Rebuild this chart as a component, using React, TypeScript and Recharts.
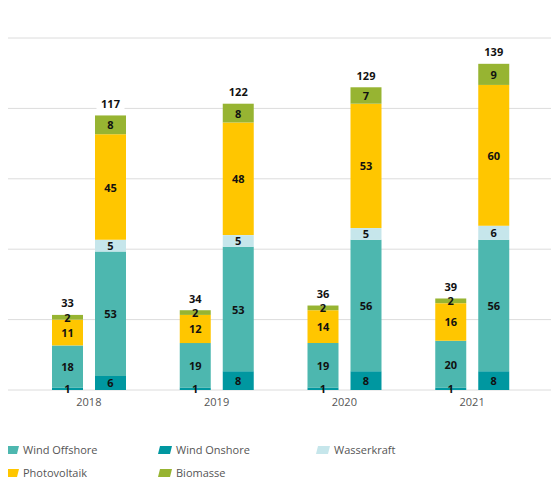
import React from 'react';
import { BarChart, Bar, XAxis, YAxis, CartesianGrid, LabelList, Legend } from 'recharts';

const years = ['2018', '2019', '2020', '2021'];

// Smaller stack (left bar of each year)
const onshoreA = [1, 1, 1, 1];
const offshoreA = [18, 19, 19, 20];
const wasserA = [0, 0, 0, 0];
const pvA = [11, 12, 14, 16];
const bioA = [2, 2, 2, 2];
const totalA = [33, 34, 36, 39];

// Larger stack (right bar of each year)
const onshoreB = [6, 8, 8, 8];
const offshoreB = [53, 53, 56, 56];
const wasserB = [5, 5, 5, 6];
const pvB = [45, 48, 53, 60];
const bioB = [8, 8, 7, 9];
const totalB = [117, 122, 129, 139];

const yTicks = [0, 30, 60, 90, 120, 150];

const seriesNames = ['Wind Offshore', 'Wind Onshore', 'Wasserkraft', 'Photovoltaik', 'Biomasse'];
const COLORS: Record<string, string> = {
  'Wind Offshore': '#4db7af',
  'Wind Onshore': '#0097a0',
  'Wasserkraft': '#c6e6eb',
  'Photovoltaik': '#ffc600',
  'Biomasse': '#97b432',
};

const data = years.map((y, i) => ({
  year: y,
  onshoreA: onshoreA[i],
  offshoreA: offshoreA[i],
  wasserA: wasserA[i],
  pvA: pvA[i],
  bioA: bioA[i],
  totalA: totalA[i],
  onshoreB: onshoreB[i],
  offshoreB: offshoreB[i],
  wasserB: wasserB[i],
  pvB: pvB[i],
  bioB: bioB[i],
  totalB: totalB[i],
}));

const FONT = "'Open Sans', sans-serif";

const SegLabel = (props: any) => {
  const { x, y, width, height, value } = props;
  if (!value) return null;
  return (
    <text
      x={x + width / 2}
      y={y + height / 2}
      textAnchor="middle"
      dominantBaseline="central"
      fontFamily={FONT}
      fontWeight={700}
      fontSize={11}
      fill="#111"
    >
      {value}
    </text>
  );
};

const makeTotalLabel = (totals: number[]) => (props: any) => {
  const { x, y, width, index } = props;
  const t = totals[index];
  const cx = x + width / 2;
  const cy = y - 12;
  return (
    <g>
      <rect x={cx - 14} y={cy - 7} width={28} height={14} fill="#fff" />
      <text
        x={cx}
        y={cy}
        textAnchor="middle"
        dominantBaseline="central"
        fontFamily={FONT}
        fontWeight={700}
        fontSize={11}
        fill="#111"
      >
        {t}
      </text>
    </g>
  );
};

const SlantTick = (props: any) => {
  const { y } = props;
  return <line x1={2} y1={y + 6} x2={5} y2={y} stroke="#d6d6d6" strokeWidth={1} />;
};

const LegendContent = () => {
  const pos = [
    { left: 5, top: 22 },
    { left: 158, top: 22 },
    { left: 316, top: 22 },
    { left: 5, top: 45 },
    { left: 158, top: 45 },
  ];
  return (
    <div style={{ position: 'relative', width: 559, height: 62 }}>
      {seriesNames.map((n, i) => (
        <div
          key={n}
          style={{
            position: 'absolute',
            left: pos[i].left,
            top: pos[i].top,
            display: 'flex',
            alignItems: 'center',
            fontFamily: FONT,
            fontSize: 11,
            color: '#555',
            whiteSpace: 'nowrap',
          }}
        >
          <svg width={14} height={8} style={{ marginRight: 4 }}>
            <polygon points="2,0 14,0 12,8 0,8" fill={COLORS[n]} />
          </svg>
          {n}
        </div>
      ))}
    </div>
  );
};

export default function App() {
  const totalLabelA = makeTotalLabel(totalA);
  const totalLabelB = makeTotalLabel(totalB);
  return (
    <div style={{ margin: -8, width: 559, height: 486, background: '#fff' }}>
      <BarChart
        width={559}
        height={486}
        data={data}
        margin={{ top: 38, right: 0, left: 0, bottom: 4 }}
        barSize={31}
        barGap={12}
      >
        <CartesianGrid vertical={false} stroke="#dcdcdc" />
        <YAxis
          width={5}
          domain={[0, 150]}
          ticks={yTicks}
          axisLine={false}
          tickLine={false}
          tick={<SlantTick />}
          interval={0}
        />
        <XAxis
          dataKey="year"
          height={30}
          axisLine={false}
          tickLine={false}
          padding={{ left: 20, right: 23 }}
          tick={{ fill: '#555', fontSize: 11, fontFamily: FONT }}
        />
        <Legend verticalAlign="bottom" height={62} content={<LegendContent />} />
        <Bar dataKey="onshoreA" stackId="a" fill={COLORS['Wind Onshore']} isAnimationActive={false} legendType="none">
          <LabelList dataKey="onshoreA" content={<SegLabel />} />
        </Bar>
        <Bar dataKey="offshoreA" stackId="a" fill={COLORS['Wind Offshore']} isAnimationActive={false} legendType="none">
          <LabelList dataKey="offshoreA" content={<SegLabel />} />
        </Bar>
        <Bar dataKey="wasserA" stackId="a" fill={COLORS['Wasserkraft']} isAnimationActive={false} legendType="none">
          <LabelList dataKey="wasserA" content={<SegLabel />} />
        </Bar>
        <Bar dataKey="pvA" stackId="a" fill={COLORS['Photovoltaik']} isAnimationActive={false} legendType="none">
          <LabelList dataKey="pvA" content={<SegLabel />} />
        </Bar>
        <Bar dataKey="bioA" stackId="a" fill={COLORS['Biomasse']} isAnimationActive={false} legendType="none">
          <LabelList dataKey="bioA" content={<SegLabel />} />
          <LabelList dataKey="totalA" content={totalLabelA} />
        </Bar>
        <Bar dataKey="onshoreB" stackId="b" fill={COLORS['Wind Onshore']} isAnimationActive={false} legendType="none">
          <LabelList dataKey="onshoreB" content={<SegLabel />} />
        </Bar>
        <Bar dataKey="offshoreB" stackId="b" fill={COLORS['Wind Offshore']} isAnimationActive={false} legendType="none">
          <LabelList dataKey="offshoreB" content={<SegLabel />} />
        </Bar>
        <Bar dataKey="wasserB" stackId="b" fill={COLORS['Wasserkraft']} isAnimationActive={false} legendType="none">
          <LabelList dataKey="wasserB" content={<SegLabel />} />
        </Bar>
        <Bar dataKey="pvB" stackId="b" fill={COLORS['Photovoltaik']} isAnimationActive={false} legendType="none">
          <LabelList dataKey="pvB" content={<SegLabel />} />
        </Bar>
        <Bar dataKey="bioB" stackId="b" fill={COLORS['Biomasse']} isAnimationActive={false} legendType="none">
          <LabelList dataKey="bioB" content={<SegLabel />} />
          <LabelList dataKey="totalB" content={totalLabelB} />
        </Bar>
      </BarChart>
    </div>
  );
}
